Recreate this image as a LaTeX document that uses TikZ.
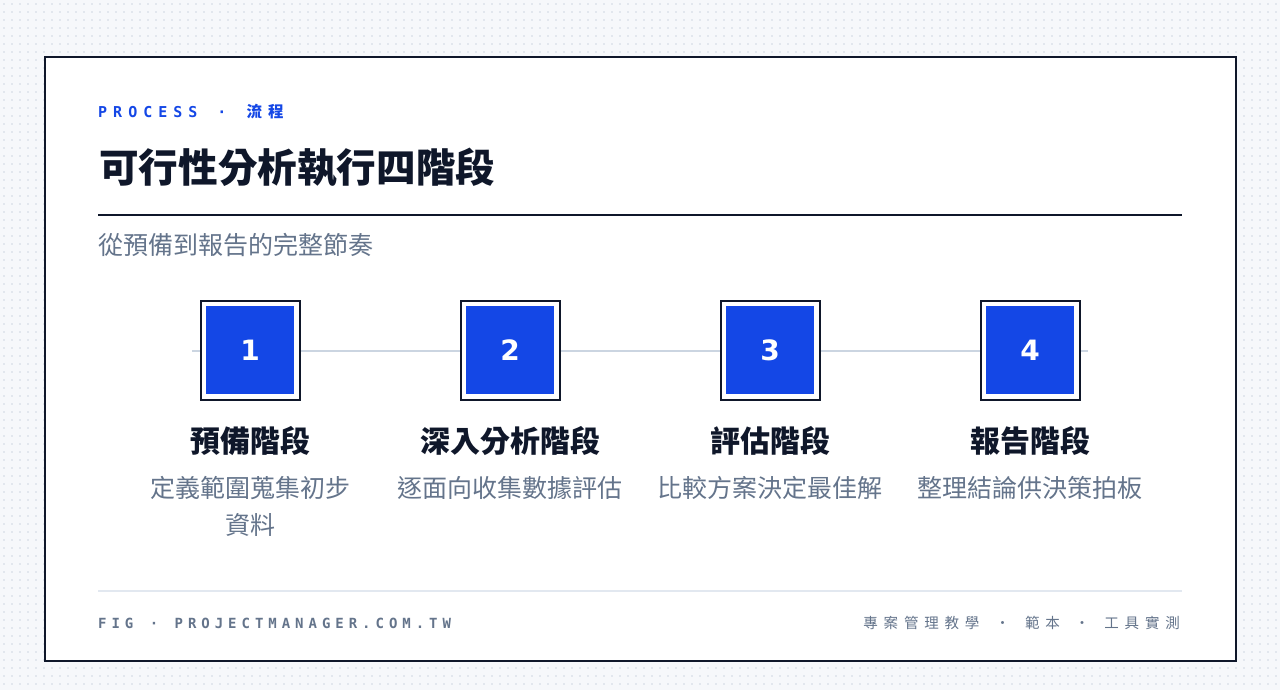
\documentclass[tikz,border=0pt]{standalone}
\usepackage{fontspec}
\newfontfamily\cjk{Noto Sans CJK TC}
\newfontfamily\cjkhead{Noto Sans CJK TC}[LetterSpace=40]
\newfontfamily\cjkfoot{Noto Sans CJK TC}[LetterSpace=40]
\newfontfamily\monohead{DejaVu Sans Mono}[LetterSpace=40]
\newfontfamily\monofoot{DejaVu Sans Mono}[LetterSpace=35.5]
\newfontfamily\numfont{DejaVu Sans}
\definecolor{bgc}{HTML}{F6F8FB}
\definecolor{dotc}{HTML}{E2E7EE}
\definecolor{ink}{HTML}{0F172A}
\definecolor{accent}{HTML}{1447E6}
\definecolor{slate}{HTML}{64748B}
\definecolor{rulelight}{HTML}{E2E8F0}
\definecolor{track}{HTML}{CBD5E1}
\tikzset{
  frame/.style={draw=ink, line width=2pt, fill=white, minimum size=99pt, inner sep=0pt},
  tile/.style={fill=accent, minimum size=88pt, inner sep=0pt, text=white,
    font=\numfont\bfseries\fontsize{28}{30}\selectfont},
  steptitle/.style={inner sep=0pt, text=ink, font=\cjk\bfseries\fontsize{30}{34}\selectfont},
  stepdesc/.style={inner sep=0pt, text=slate, font=\cjk\fontsize{25}{28}\selectfont},
}
\begin{document}
\begin{tikzpicture}[x=1pt, y=-1pt]
\useasboundingbox (0,0) rectangle (1280,690);
\fill[bgc] (0,0) rectangle (1280,690);
\foreach \yy in {4,12,...,690}
  \draw[dotc, line width=1.6pt, dash pattern=on 1.6pt off 6.4pt, dash phase=-3.2pt] (0,\yy) -- (1280,\yy);
% card
\draw[ink, line width=2pt, fill=white] (45,57) rectangle (1236,661);
% header
\node[anchor=west, inner sep=0pt, text=accent] (kicker) at (98,112)
  {\monohead\bfseries\fontsize{15}{18}\selectfont PROCESS\hspace{5pt} · \hspace{5pt}\cjkhead\bfseries\fontsize{15.5}{18}\selectfont 流程};
\node[anchor=west, inner sep=0pt, text=ink] (title) at (99,168)
  {\cjk\bfseries\fontsize{39.6}{44}\selectfont 可行性分析執行四階段};
\draw[ink, line width=2pt] (98,215) -- (1182,215);
\node[anchor=west, inner sep=0pt, text=slate] (subtitle) at (98,245)
  {\cjk\fontsize{25}{28}\selectfont 從預備到報告的完整節奏};
% track
\coordinate (tl) at (192,351);
\coordinate (tr) at (1088,351);
\draw[track, line width=2pt] (tl) -- (tr);
% steps
\foreach \i/\cx in {1/250,2/510,3/770,4/1030} {
  \node[frame] (f\i) at (\cx,350) {};
  \node[tile] (n\i) at (f\i.center) {\i};
}
\node[steptitle] (t1) at (250,441) {預備階段};
\node[steptitle] (t2) at (510,441) {深入分析階段};
\node[steptitle] (t3) at (770,441) {評估階段};
\node[steptitle] (t4) at (1030,441) {報告階段};
\node[stepdesc] (d1) at (250,488) {定義範圍蒐集初步};
\node[stepdesc] (d1b) at (250,525) {資料};
\node[stepdesc] (d2) at (510,488) {逐面向收集數據評估};
\node[stepdesc] (d3) at (770,488) {比較方案決定最佳解};
\node[stepdesc] (d4) at (1030,488) {整理結論供決策拍板};
% footer
\draw[rulelight, line width=2pt] (98,591) -- (1182,591);
\node[anchor=west, inner sep=0pt, text=slate] (figlabel) at (98,623)
  {\monofoot\bfseries\fontsize{14}{16}\selectfont FIG\hspace{3pt} · \hspace{3pt}PROJECTMANAGER.COM.TW};
\node[anchor=east, inner sep=0pt, text=slate] (tags) at (1180,623)
  {\cjkfoot\fontsize{14.5}{16}\selectfont 專案管理教學\hspace{7pt} · \hspace{6pt}範本\hspace{6pt} · \hspace{6pt}工具實測};
\end{tikzpicture}
\end{document}
